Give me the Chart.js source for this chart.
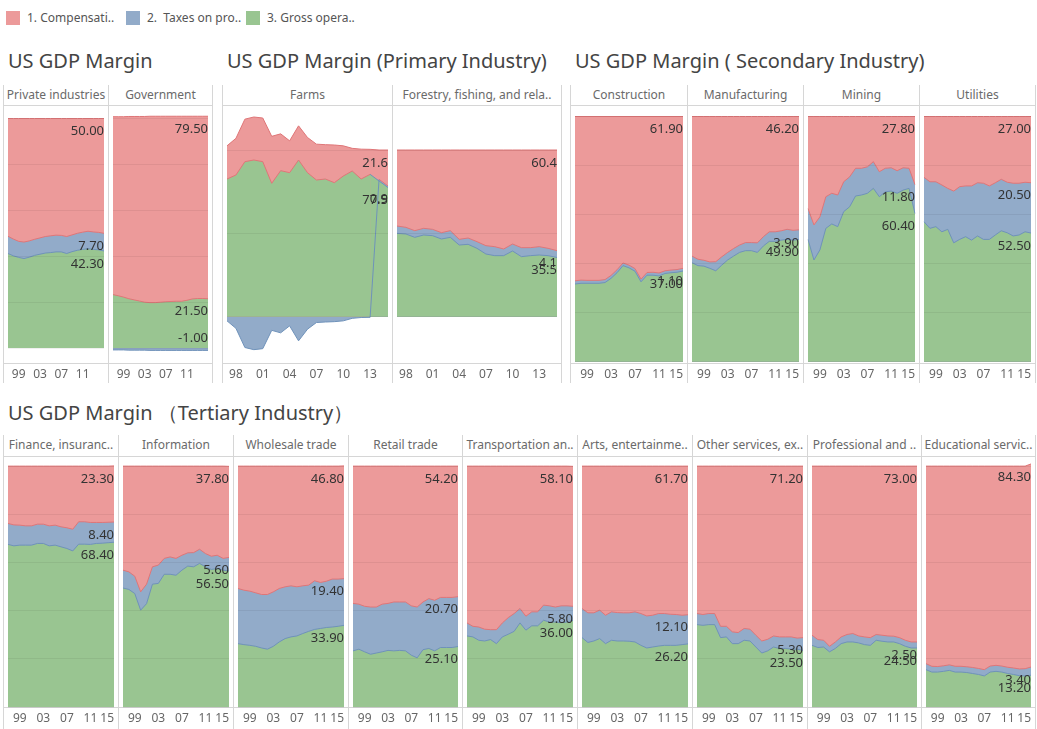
<!DOCTYPE html>
<html>
<head>
<meta charset="utf-8">
<script src="https://cdn.jsdelivr.net/npm/chart.js@4.4.1/dist/chart.umd.min.js"></script>
<style>
  body { margin: 0; background: #fff; font-family: 'Noto Sans', sans-serif; }
  #board { position: relative; width: 1037px; height: 729px; overflow: hidden; }
  .abs { position: absolute; }
  .title { font-size: 20px; color: #444; line-height: 24px; white-space: pre; }
  .head { font-size: 12px; color: #6a6a6a; line-height: 20px; height: 20px; text-align: center; white-space: nowrap; overflow: hidden; }
  .vline { width: 1px; background: #d6d6d6; }
  .hline { height: 1px; background: #d6d6d6; }
  .sw { width: 14px; height: 14px; }
  .lg { font-size: 12px; color: #555; line-height: 16px; white-space: pre; }
</style>
</head>
<body>
<div id="board"></div>
<script>
// years 1997 - 2015
const years = ['1997','1998','1999','2000','2001','2002','2003','2004','2005','2006','2007','2008','2009','2010','2011','2012','2013','2014','2015'];

// 1. Compensation / 2. Taxes on production / 3. Gross operating surplus (% of value added)
const privComp  = [51.3, 52.5, 53.5, 53.8, 53.3, 52.6, 52.0, 51.4, 51.1, 50.8, 50.9, 51.4, 50.7, 50.0, 49.5, 49.1, 49.4, 49.6, 50.0];
const privTax   = [7.5, 7.3, 7.0, 7.2, 7.1, 7.0, 7.1, 7.2, 7.3, 7.3, 7.2, 7.4, 7.3, 7.4, 7.5, 7.6, 7.6, 7.6, 7.7];
const privGross = [41.2, 40.2, 39.5, 39.0, 39.6, 40.4, 40.9, 41.4, 41.6, 41.9, 41.9, 41.2, 42.0, 42.6, 43.0, 43.3, 43.0, 42.8, 42.3];

const govComp  = [77.5, 78.0, 78.6, 79.4, 79.9, 80.4, 80.9, 81.2, 81.2, 81.0, 80.8, 80.7, 80.6, 80.6, 80.2, 79.6, 79.4, 79.4, 79.5];
const govTax   = [-0.8, -0.8, -0.8, -0.9, -0.9, -0.9, -0.9, -1.0, -1.0, -1.0, -1.0, -1.0, -1.0, -1.0, -1.0, -1.0, -1.0, -1.0, -1.0];
const govGross = [23.3, 22.8, 22.2, 21.5, 21.0, 20.5, 20.0, 19.8, 19.8, 20.0, 20.2, 20.3, 20.4, 20.4, 20.8, 21.4, 21.6, 21.6, 21.5];

const farmComp  = [19.9, 22.0, 25.5, 25.8, 26.2, 28.2, 22.1, 19.1, 20.5, 21.1, 21.5, 20.6, 22.6, 18.1, 13.6, 17.9, 15.0, 17.6, 21.6];
const farmTax   = [-2.5, -7.0, -18.5, -19.8, -19.2, -8.2, -9.7, -5.5, -14.5, -7.5, -3.5, -3.2, -3.0, -2.5, -1.0, -0.5, -0.4, 1.0, 0.9];
const farmGross = [82.6, 85.0, 93.0, 94.0, 93.0, 80.0, 87.6, 86.4, 94.0, 86.4, 82.0, 82.6, 80.4, 84.4, 87.4, 82.6, 85.4, 81.4, 77.5];

const forComp  = [45.6, 46.4, 48.4, 47.0, 47.6, 49.6, 48.4, 53.6, 52.8, 55.0, 57.4, 58.0, 59.4, 56.4, 58.6, 58.6, 58.0, 59.0, 60.4];
const forTax   = [4.4, 4.0, 4.0, 4.0, 3.8, 3.8, 4.0, 3.4, 3.8, 4.0, 5.0, 5.4, 4.0, 4.2, 5.4, 4.8, 5.0, 4.4, 4.1];
const forGross = [50.0, 49.6, 47.6, 49.0, 48.6, 46.6, 47.6, 43.0, 43.4, 41.0, 37.6, 36.6, 36.6, 39.4, 36.0, 36.6, 37.0, 36.6, 35.5];

const consComp  = [67.0, 66.7, 66.8, 66.8, 66.8, 66.5, 64.8, 62.5, 59.7, 60.6, 62.0, 66.3, 63.6, 63.5, 63.8, 62.9, 62.6, 62.4, 61.9];
const consTax   = [1.3, 1.3, 1.2, 1.2, 1.2, 1.2, 1.2, 1.2, 1.1, 1.1, 1.1, 1.1, 1.1, 1.2, 1.2, 1.1, 1.1, 1.1, 1.1];
const consGross = [31.7, 32.0, 32.0, 32.0, 32.0, 32.3, 34.0, 36.3, 39.2, 38.3, 36.9, 32.6, 35.3, 35.3, 35.0, 36.0, 36.3, 36.5, 37.0];

const manComp  = [56.9, 58.2, 58.6, 59.3, 59.2, 57.2, 55.4, 53.8, 52.4, 51.4, 51.4, 51.5, 49.0, 47.0, 47.0, 46.6, 46.0, 46.4, 46.2];
const manTax   = [2.7, 2.6, 2.4, 2.6, 3.7, 3.4, 3.1, 3.1, 3.0, 3.3, 3.3, 3.9, 3.8, 3.9, 3.9, 3.8, 4.1, 4.0, 3.9];
const manGross = [40.4, 39.2, 39.0, 38.1, 37.1, 39.4, 41.5, 43.1, 44.6, 45.3, 45.3, 44.6, 47.2, 49.1, 49.1, 49.6, 49.9, 49.6, 49.9];

const minComp  = [37.5, 44.2, 40.9, 32.7, 31.3, 32.0, 26.6, 24.6, 21.1, 21.1, 20.5, 18.4, 22.5, 21.1, 20.9, 22.1, 20.9, 21.1, 27.8];
const minTax   = [12.6, 14.3, 13.5, 12.9, 12.5, 12.9, 12.2, 12.2, 11.3, 10.9, 10.8, 10.9, 10.2, 9.6, 9.5, 9.2, 9.1, 8.2, 11.8];
const minGross = [49.9, 41.5, 45.6, 54.4, 56.2, 55.1, 61.2, 63.2, 67.6, 68.0, 68.7, 70.7, 67.3, 69.3, 69.6, 68.7, 70.0, 70.7, 60.4];

const utilComp  = [24.8, 26.6, 26.6, 27.9, 29.3, 30.4, 28.6, 28.3, 28.3, 27.0, 27.2, 28.3, 27.0, 25.6, 26.8, 27.2, 27.2, 26.8, 27.0];
const utilTax   = [18.1, 19.0, 18.3, 19.1, 16.7, 21.1, 21.5, 20.7, 22.1, 21.7, 22.9, 21.8, 21.3, 21.0, 20.6, 21.5, 21.1, 20.2, 20.5];
const utilGross = [57.1, 54.4, 55.1, 53.0, 54.0, 48.5, 49.9, 51.0, 49.6, 51.3, 49.9, 49.9, 51.7, 53.4, 52.6, 51.3, 51.7, 53.0, 52.5];

const finComp  = [23.8, 24.4, 24.5, 24.8, 24.8, 24.1, 24.1, 24.8, 24.5, 25.2, 25.6, 26.2, 23.1, 23.1, 23.4, 23.4, 23.4, 23.3, 23.3];
const finTax   = [8.7, 8.7, 8.3, 8.0, 8.0, 8.0, 8.0, 8.3, 8.3, 8.3, 8.6, 9.0, 9.3, 9.3, 9.1, 8.7, 8.6, 8.5, 8.4];
const finGross = [67.5, 66.9, 67.2, 67.2, 67.2, 67.9, 67.9, 66.9, 67.2, 66.5, 65.8, 64.8, 67.6, 67.6, 67.5, 67.9, 68.0, 68.2, 68.4];

const infComp  = [43.2, 43.9, 45.7, 52.2, 49.0, 41.8, 41.1, 38.3, 37.7, 38.3, 37.0, 36.0, 35.9, 34.5, 36.3, 37.4, 37.0, 38.3, 37.8];
const infTax   = [7.4, 7.3, 7.2, 7.6, 8.1, 7.2, 7.6, 6.6, 7.2, 7.0, 6.2, 5.5, 5.9, 5.9, 5.5, 5.5, 5.5, 4.9, 5.6];
const infGross = [49.4, 48.8, 47.1, 40.2, 42.9, 51.0, 51.3, 55.1, 55.1, 54.7, 56.8, 58.5, 58.2, 59.6, 58.2, 57.1, 57.5, 56.8, 56.5];

const whComp  = [50.8, 51.5, 51.9, 52.6, 53.3, 53.3, 52.2, 50.8, 50.1, 49.7, 50.1, 49.7, 49.4, 47.6, 48.3, 47.8, 46.9, 46.9, 46.8];
const whTax   = [22.9, 22.6, 22.5, 22.2, 22.2, 22.7, 22.6, 22.2, 21.5, 21.2, 20.4, 19.8, 19.2, 20.2, 19.1, 19.2, 19.9, 19.6, 19.4];
const whGross = [26.3, 25.9, 25.6, 25.2, 24.5, 24.0, 25.2, 27.0, 28.4, 29.1, 29.5, 30.5, 31.4, 32.2, 32.6, 33.0, 33.2, 33.5, 33.9];

const retComp  = [57.0, 57.3, 58.2, 58.5, 58.5, 57.3, 57.0, 56.4, 56.4, 56.4, 58.0, 58.5, 56.4, 55.0, 55.7, 54.5, 54.5, 54.5, 54.2];
const retTax   = [19.7, 18.7, 18.9, 19.6, 19.1, 19.8, 19.5, 20.3, 20.1, 20.3, 20.5, 21.1, 19.8, 20.7, 21.0, 20.8, 20.8, 20.8, 20.7];
const retGross = [23.3, 24.0, 22.9, 21.9, 22.4, 22.9, 23.5, 23.3, 23.5, 23.3, 21.5, 20.4, 23.8, 24.3, 23.3, 24.7, 24.7, 24.7, 25.1];

const trComp  = [65.1, 66.5, 66.8, 67.7, 67.9, 67.9, 65.1, 62.9, 61.2, 59.1, 62.3, 60.5, 60.5, 57.7, 58.0, 58.5, 58.0, 58.0, 58.1];
const trTax   = [5.4, 4.4, 5.5, 4.9, 4.1, 5.8, 5.8, 6.9, 7.4, 6.0, 5.8, 5.8, 5.8, 6.3, 6.7, 6.2, 7.0, 6.7, 5.8];
const trGross = [29.5, 29.1, 27.7, 27.4, 28.0, 26.3, 29.1, 30.2, 31.4, 34.9, 31.9, 33.7, 33.7, 36.0, 35.3, 35.3, 35.0, 35.3, 36.0];

const artComp  = [59.1, 60.9, 60.9, 59.8, 61.9, 60.5, 60.8, 60.9, 60.9, 60.5, 61.2, 62.2, 61.9, 61.2, 61.2, 61.5, 61.6, 61.9, 61.7];
const artTax   = [12.1, 12.3, 11.7, 11.8, 11.8, 11.8, 11.8, 11.7, 11.8, 12.5, 13.2, 13.3, 13.2, 13.5, 13.2, 12.9, 12.8, 12.2, 12.1];
const artGross = [28.8, 26.8, 27.4, 28.4, 26.3, 27.7, 27.4, 27.4, 27.3, 27.0, 25.6, 24.5, 24.9, 25.3, 25.6, 25.6, 25.6, 25.9, 26.2];

const othComp  = [61.2, 61.6, 61.2, 61.2, 66.5, 66.5, 68.8, 69.1, 67.4, 67.7, 70.2, 72.6, 71.9, 70.5, 70.9, 70.9, 70.9, 71.4, 71.2];
const othTax   = [4.6, 4.5, 4.6, 4.6, 4.7, 4.4, 4.9, 4.6, 4.9, 4.9, 4.9, 5.0, 4.8, 4.6, 4.8, 4.8, 5.1, 4.6, 5.3];
const othGross = [34.2, 33.9, 34.2, 34.2, 28.8, 29.1, 26.3, 26.3, 27.7, 27.4, 24.9, 22.4, 23.3, 24.9, 24.3, 24.3, 24.0, 24.0, 23.5];

const proComp  = [70.2, 72.0, 72.3, 74.8, 73.0, 70.9, 69.9, 69.5, 70.5, 70.9, 71.2, 69.9, 70.2, 70.5, 70.6, 71.2, 72.3, 73.0, 73.0];
const proTax   = [4.2, 3.3, 2.8, 2.3, 2.7, 2.8, 3.1, 3.5, 2.9, 3.2, 3.2, 2.4, 2.5, 2.5, 2.4, 2.5, 2.5, 2.5, 2.5];
const proGross = [25.6, 24.7, 24.9, 22.9, 24.3, 26.3, 27.0, 27.0, 26.6, 25.9, 25.6, 27.7, 27.3, 27.0, 27.0, 26.3, 25.2, 24.5, 24.5];

const eduComp  = [82.0, 83.1, 83.2, 82.9, 82.5, 83.1, 83.1, 83.3, 83.6, 84.0, 84.5, 83.0, 82.7, 83.0, 83.5, 83.8, 84.2, 84.1, 84.3];
const eduTax   = [2.5, 2.4, 2.3, 2.3, 2.3, 2.4, 2.4, 2.4, 2.5, 2.5, 2.6, 2.5, 2.5, 2.5, 2.6, 2.7, 2.8, 3.0, 3.4];
const eduGross = [15.5, 14.5, 14.5, 14.8, 15.2, 14.5, 14.5, 14.3, 13.9, 13.5, 12.9, 14.5, 14.8, 14.5, 13.9, 13.5, 13.0, 12.9, 13.2];

const seriesNames = ['1. Compensati..', '2.  Taxes on pro..', '3. Gross opera..'];

// colours
const RED = '#EC9A9A', BLUE = '#92ABC9', GREEN = '#99C591';
const RED_LINE = '#DF7678', BLUE_LINE = '#6F92BA';

// axis setups for each dashboard group
const groups = {
  all:  { min: -6.5, max: 105.9, step: 20, ticks: ['1999','2003','2007','2011'], dec: 2 },
  prim: { min: -27.8, max: 127, step: 50, ticks: ['1998','2001','2004','2007','2010','2013'], dec: 1 },
  sec:  { min: -0.5, max: 104.7, step: 20, ticks: ['1999','2003','2007','2011','2015'], dec: 2 },
  ter:  { min: 0, max: 104.2, step: 20, ticks: ['1999','2003','2007','2011','2015'], dec: 2 }
};

const rows = [
  { headTop: 85, top: 105, bottom: 383, axisH: 20 },
  { headTop: 435, top: 456, bottom: 729, axisH: 22 }
];

const panels = [
  { name: 'Private industries', c: privComp, t: privTax, g: privGross, x0: 3, x1: 108, row: 0, grp: 'all' },
  { name: 'Government', c: govComp, t: govTax, g: govGross, x0: 108, x1: 212, row: 0, grp: 'all' },
  { name: 'Farms', c: farmComp, t: farmTax, g: farmGross, x0: 222, x1: 392, row: 0, grp: 'prim' },
  { name: 'Forestry, fishing, and rela..', c: forComp, t: forTax, g: forGross, x0: 392, x1: 561, row: 0, grp: 'prim' },
  { name: 'Construction', c: consComp, t: consTax, g: consGross, x0: 570, x1: 687, row: 0, grp: 'sec' },
  { name: 'Manufacturing', c: manComp, t: manTax, g: manGross, x0: 687, x1: 803, row: 0, grp: 'sec' },
  { name: 'Mining', c: minComp, t: minTax, g: minGross, x0: 803, x1: 919, row: 0, grp: 'sec' },
  { name: 'Utilities', c: utilComp, t: utilTax, g: utilGross, x0: 919, x1: 1035, row: 0, grp: 'sec' },
  { name: 'Finance, insuranc..', c: finComp, t: finTax, g: finGross, x0: 3, x1: 118, row: 1, grp: 'ter' },
  { name: 'Information', c: infComp, t: infTax, g: infGross, x0: 118, x1: 233, row: 1, grp: 'ter' },
  { name: 'Wholesale trade', c: whComp, t: whTax, g: whGross, x0: 233, x1: 348, row: 1, grp: 'ter' },
  { name: 'Retail trade', c: retComp, t: retTax, g: retGross, x0: 348, x1: 462, row: 1, grp: 'ter' },
  { name: 'Transportation an..', c: trComp, t: trTax, g: trGross, x0: 462, x1: 577, row: 1, grp: 'ter' },
  { name: 'Arts, entertainme..', c: artComp, t: artTax, g: artGross, x0: 577, x1: 692, row: 1, grp: 'ter' },
  { name: 'Other services, ex..', c: othComp, t: othTax, g: othGross, x0: 692, x1: 807, row: 1, grp: 'ter' },
  { name: 'Professional and ..', c: proComp, t: proTax, g: proGross, x0: 807, x1: 921, row: 1, grp: 'ter' },
  { name: 'Educational servic..', c: eduComp, t: eduTax, g: eduGross, x0: 921, x1: 1035, row: 1, grp: 'ter' }
];

// dashboard sections (for lines)
const sections = [
  { x0: 3, x1: 212, row: 0, seps: [3, 108, 212] },
  { x0: 222, x1: 561, row: 0, seps: [222, 392, 561] },
  { x0: 570, x1: 1035, row: 0, seps: [570, 687, 803, 919, 1035] },
  { x0: 3, x1: 1035, row: 1, seps: [3, 118, 233, 348, 462, 577, 692, 807, 921, 1035] }
];

const titles = [
  { text: 'US GDP Margin', x: 8, y: 49 },
  { text: 'US GDP Margin (Primary Industry)', x: 227, y: 49 },
  { text: 'US GDP Margin ( Secondary Industry)', x: 575, y: 49 },
  { text: 'US GDP Margin （Tertiary Industry）', x: 8, y: 401 }
];

const board = document.getElementById('board');
function addDiv(cls, css, text) {
  const d = document.createElement('div');
  d.className = 'abs ' + cls;
  Object.assign(d.style, css);
  if (text !== undefined) d.textContent = text;
  board.appendChild(d);
  return d;
}

// legend
const swatches = [RED, BLUE, GREEN];
const legendX = [6, 126, 246];
for (let i = 0; i < 3; i++) {
  addDiv('sw', { left: legendX[i] + 'px', top: '11px', background: swatches[i] });
  addDiv('lg', { left: (legendX[i] + 21) + 'px', top: '10px' }, seriesNames[i]);
}

titles.forEach(t => addDiv('title', { left: t.x + 'px', top: t.y + 'px' }, t.text));

sections.forEach(s => {
  const r = rows[s.row];
  addDiv('hline', { left: s.x0 + 'px', top: r.top + 'px', width: (s.x1 - s.x0 + 1) + 'px' });
  addDiv('hline', { left: s.x0 + 'px', top: (r.bottom - r.axisH) + 'px', width: (s.x1 - s.x0 + 1) + 'px' });
  s.seps.forEach(x => {
    addDiv('vline', { left: x + 'px', top: r.headTop + 'px', height: (r.bottom - r.headTop) + 'px' });
  });
});

// end-of-series value labels
const endLabels = {
  id: 'endLabels',
  afterDatasetsDraw(chart, args, opts) {
    const ctx = chart.ctx;
    const right = chart.chartArea.right;
    ctx.save();
    ctx.font = "13px 'Noto Sans', sans-serif";
    ctx.fillStyle = '#333';
    ctx.textAlign = 'right';
    ctx.textBaseline = 'middle';
    chart.data.datasets.forEach((ds, i) => {
      const pts = chart.getDatasetMeta(i).data;
      const last = pts[pts.length - 1];
      const v = ds.data[ds.data.length - 1];
      const y = v < 0 ? last.y - 12 : last.y + 13;
      ctx.fillText(v.toFixed(opts.decimals), right, y);
    });
    ctx.restore();
  }
};

Chart.defaults.font.family = "'Noto Sans', sans-serif";

panels.forEach(p => {
  const r = rows[p.row];
  const gc = groups[p.grp];
  addDiv('head', { left: (p.x0 + 1) + 'px', top: r.headTop + 'px', width: (p.x1 - p.x0 - 1) + 'px' }, p.name);

  const cv = document.createElement('canvas');
  const w = p.x1 - p.x0 - 1, h = r.bottom - r.top;
  cv.width = w; cv.height = h;
  cv.className = 'abs';
  cv.style.left = (p.x0 + 1) + 'px';
  cv.style.top = r.top + 'px';
  cv.style.width = w + 'px';
  cv.style.height = h + 'px';
  board.appendChild(cv);

  const tax = p.t;
  new Chart(cv.getContext('2d'), {
    type: 'line',
    data: {
      labels: years,
      datasets: [
        {
          label: seriesNames[2], data: p.g, backgroundColor: GREEN, fill: 'origin',
          borderWidth: 1, pointRadius: 0,
          segment: { borderColor: c => (tax[c.p0DataIndex] < 0 && tax[c.p1DataIndex] < 0) ? RED_LINE : BLUE_LINE }
        },
        {
          label: seriesNames[1], data: p.t, backgroundColor: BLUE, fill: 'origin',
          borderWidth: 1, pointRadius: 0,
          segment: { borderColor: c => (tax[c.p0DataIndex] < 0 || tax[c.p1DataIndex] < 0) ? BLUE_LINE : RED_LINE }
        },
        {
          label: seriesNames[0], data: p.c, backgroundColor: RED, borderColor: RED_LINE, fill: 'origin',
          borderWidth: 1, pointRadius: 0
        }
      ]
    },
    options: {
      responsive: false,
      animation: false,
      layout: { padding: { left: 1, right: 3, top: 0, bottom: 0 } },
      plugins: {
        legend: { display: false },
        tooltip: { enabled: false },
        filler: { drawTime: 'beforeDatasetsDraw' },
        endLabels: { decimals: gc.dec }
      },
      scales: {
        x: {
          grid: { display: false, drawTicks: false },
          border: { display: false },
          ticks: {
            autoSkip: false, maxRotation: 0, align: 'inner', padding: 4,
            color: '#666', font: { size: 12 },
            callback: function (value) {
              const y = this.getLabelForValue(value);
              return gc.ticks.includes(y) ? y.slice(2) : '';
            }
          },
          afterFit: s => { s.height = r.axisH; }
        },
        y: {
          stacked: true,
          min: gc.min, max: gc.max,
          border: { display: false },
          grid: { color: 'rgba(0,0,0,0.06)', drawTicks: false, z: 1 },
          ticks: { display: false, stepSize: gc.step, includeBounds: false }
        }
      }
    },
    plugins: [endLabels]
  });
});
</script>
</body>
</html>
